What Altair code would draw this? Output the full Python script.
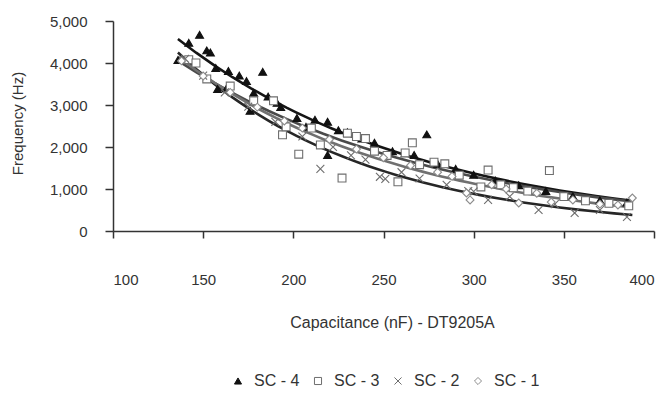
import altair as alt
import pandas as pd

order = ["SC - 4", "SC - 3", "SC - 2", "SC - 1"]

sc4_cap = [136, 142, 148, 152, 154, 157, 158, 163, 164, 170, 174, 176, 178, 183, 186, 191, 193, 202, 207, 212, 219, 219,
           225, 230, 238, 245, 255, 262, 267, 274, 280, 290, 300, 312, 325, 340, 355, 370, 385]
sc4_freq = [4070, 4480, 4670, 4300, 4250, 3880, 3380, 3400, 3810, 3700, 3570, 2860, 3290, 3790, 3200, 3050, 2950, 2690, 2480, 2650, 2600, 1810,
            2400, 2350, 2200, 2100, 1900, 1850, 1810, 2300, 1600, 1480, 1340, 1200, 1090, 950, 830, 730, 680]

sc3_cap = [142, 146, 152, 165, 178, 189, 194, 196, 203, 210, 215, 227, 230, 235, 240, 245, 252, 258, 262, 266, 270, 278, 284,
           292, 304, 308, 315, 322, 330, 342, 350, 362, 375, 386]
sc3_freq = [4080, 4000, 3620, 3450, 3100, 3100, 2290, 2480, 1830, 2450, 2050, 1260, 2330, 2250, 2200, 1900, 1800, 1170, 1860, 2100, 1580, 1640, 1600,
            1330, 1050, 1450, 1100, 1030, 950, 1440, 820, 720, 660, 600]

sc2_cap = [140, 150, 162, 175, 190, 205, 215, 222, 232, 240, 248, 251, 260, 270, 285, 297, 300, 308, 320, 336, 345, 356, 370, 385]
sc2_freq = [4100, 3700, 3300, 2960, 2600, 2250, 1480, 2000, 1800, 1700, 1290, 1240, 1400, 1250, 1100, 950, 940, 740, 820, 500, 640, 430, 500, 333]

sc1_cap = [138, 150, 165, 180, 195, 205, 220, 235, 250, 265, 280, 288, 296, 298, 310, 318, 325, 335, 343, 355, 370, 380, 388]
sc1_freq = [4050, 3690, 3300, 2950, 2620, 2450, 2180, 1950, 1745, 1560, 1400, 1300, 905, 740, 1100, 1000, 667, 900, 690, 740, 640, 620, 786]

x_ticks = [100, 150, 200, 250, 300, 350, 400]
y_ticks = [0, 1000, 2000, 3000, 4000, 5000]

rows = []
for name, xs, ys in [("SC - 4", sc4_cap, sc4_freq), ("SC - 3", sc3_cap, sc3_freq),
                     ("SC - 2", sc2_cap, sc2_freq), ("SC - 1", sc1_cap, sc1_freq)]:
    rows += [{"series": name, "cap": x, "freq": y} for x, y in zip(xs, ys)]
df = pd.DataFrame(rows)

shape_range = ["triangle-up", "square", "M-1,-1L1,1M1,-1L-1,1", "diamond"]
stroke_range = ["#111111", "#6e6e6e", "#6e6e6e", "#8c8c8c"]
fill_range = ["#111111", "#ffffff", "transparent", "#ffffff"]
line_colors = ["#151515", "#4a4a4a", "#262626", "#707070"]

font = "Liberation Sans"

xenc = alt.X("cap:Q", scale=alt.Scale(domain=[100, 400], nice=False),
             axis=alt.Axis(values=x_ticks, tickSize=7, labelPadding=34, labelFontSize=15,
                           titleFontSize=16, titleX=279, titleY=91, titleBaseline="middle"),
             title="Capacitance (nF) - DT9205A")
yenc = alt.Y("freq:Q", scale=alt.Scale(domain=[0, 5000], nice=False),
             axis=alt.Axis(values=y_ticks, format=",d", tickSize=8, labelPadding=18, labelFontSize=15,
                           titleFontSize=15, titleX=-96, titleY=102, titleBaseline="middle"),
             title="Frequency (Hz)")

leg = alt.Legend(title=None, orient="none", legendX=117, legendY=352, direction="horizontal",
                 labelFontSize=16, labelFont=font, labelColor="#333333", symbolSize=50,
                 labelOffset=8, columnPadding=10, symbolStrokeWidth=1)

base = alt.Chart(df)

lines = []
for name, col in zip(order, line_colors):
    lines.append(
        base.transform_filter(alt.datum.series == name)
        .transform_regression("cap", "freq", method="exp", extent=[136, 388])
        .mark_line(color=col, strokeWidth=2.6)
        .encode(x=xenc, y=yenc)
    )

points = base.mark_point(size=62, strokeWidth=1.1, opacity=1).encode(
    x=xenc,
    y=yenc,
    shape=alt.Shape("series:N", scale=alt.Scale(domain=order, range=shape_range), legend=leg),
    color=alt.Color("series:N", scale=alt.Scale(domain=order, range=stroke_range), legend=leg),
    fill=alt.Fill("series:N", scale=alt.Scale(domain=order, range=fill_range), legend=leg),
)

chart = alt.layer(*lines, points).properties(
    width=541, height=210, autosize="none",
    padding={"left": 105, "top": 13, "right": 10, "bottom": 170},
).configure_view(stroke=None).configure_axis(
    grid=False, domainColor="#333333", tickColor="#333333", domainWidth=1.5, tickWidth=1.5,
    labelColor="#333333", titleColor="#333333", labelFont=font, titleFont=font,
    titleFontWeight="normal",
)

chart.save("out.html", embed_options={"renderer": "svg", "actions": False})
